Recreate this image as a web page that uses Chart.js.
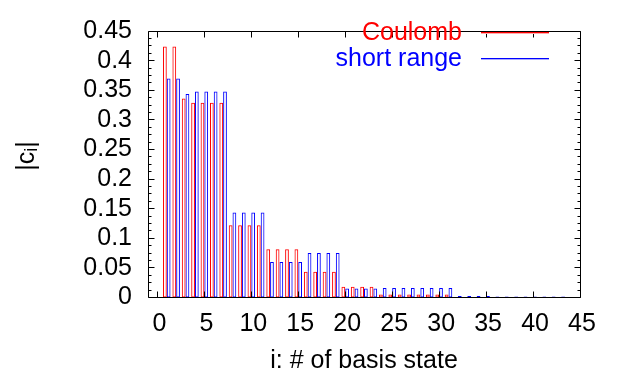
<!DOCTYPE html>
<html><head><meta charset="utf-8">
<script src="https://cdn.jsdelivr.net/npm/chart.js@4"></script>
<style>html,body{margin:0;padding:0;background:#fff;}canvas{display:block;}</style>
</head><body>
<canvas id="c" width="619" height="376"></canvas>
<script>
// ---- data ----
const basisIndex = [1,2,3,4,5,6,7,8,9,10,11,12,13,14,15,16,17,18,19,20,21,22,23,24,25,26,27,28,29,30,31,32,33,34,35,36,37,38,39,40,41,42,43];
const coulomb = [0.424,0.424,0.336,0.329,0.329,0.329,0.329,0.122,0.122,0.122,0.122,0.0815,0.0815,0.0815,0.0815,0.0433,0.0433,0.0433,0.0433,0.0183,0.0183,0.0183,0.0183,0.005,0.005,0.005,0.005,0.005,0.005,0.005,0.005,0.001,0.001,0.001,0.001,0.001,0.001,0.001,0.001,0.001,0.001,0.001,0.001];
const shortRange = [0.370,0.370,0.3435,0.348,0.348,0.348,0.348,0.1436,0.1436,0.1436,0.1436,0.060,0.060,0.060,0.060,0.0751,0.0751,0.0751,0.0751,0.0151,0.0151,0.0151,0.0151,0.0162,0.0162,0.0162,0.0162,0.0162,0.0162,0.0162,0.0162,0.0025,0.0025,0.0025,0.0025,0.0015,0.0015,0.0015,0.0015,0.0015,0.0015,0.0015,0.0015];
const seriesNames = ['Coulomb', 'short range'];
const xTickValues = [0,5,10,15,20,25,30,35,40,45];
const yTickValues = [0,0.05,0.1,0.15,0.2,0.25,0.3,0.35,0.4,0.45];
const yMinorPerMajor = 4;
const xTitle = 'i: # of basis state';

const FONT = '"Liberation Sans", Arial, Helvetica, sans-serif';
const FS = 25;

const framePlugin = {
  id: 'frame',
  afterDraw(chart) {
    const {ctx, chartArea: a, scales: {x, y}} = chart;
    ctx.save();
    ctx.strokeStyle = '#000';
    ctx.lineWidth = 1;
    const L = Math.floor(a.left) + 0.5, R = Math.floor(a.right) + 0.5;
    const T = Math.floor(a.top) + 0.5, B = Math.floor(a.bottom) + 0.5;
    ctx.beginPath();
    ctx.rect(L, T, R - L, B - T);
    const yMin = yTickValues[0], yStep = yTickValues[1] - yTickValues[0];
    const nMinor = (yTickValues.length - 1) * yMinorPerMajor;
    for (let k = 0; k <= nMinor; k++) {
      const v = yMin + k * yStep / yMinorPerMajor;
      const py = Math.floor(y.getPixelForValue(v)) + 0.5;
      const len = (k % yMinorPerMajor === 0) ? 6 : 3;
      ctx.moveTo(L, py); ctx.lineTo(L + len, py);
      ctx.moveTo(R, py); ctx.lineTo(R - len, py);
    }
    for (const v of xTickValues) {
      const px = Math.floor(x.getPixelForValue(v)) + 0.5;
      ctx.moveTo(px, B); ctx.lineTo(px, B - 6);
      ctx.moveTo(px, T); ctx.lineTo(px, T + 6);
    }
    ctx.stroke();

    // legend (text, then line sample)
    ctx.font = FS + 'px ' + FONT;
    ctx.textAlign = 'right';
    ctx.textBaseline = 'middle';
    const legendHalo = ['rgb(255,170,170)', 'rgb(170,170,255)'];
    chart.data.datasets.forEach((ds, i) => {
      const ly = 33 + i * 26;
      ctx.fillStyle = ds.borderColor;
      ctx.fillText(ds.label, 462, ly);
      ctx.fillRect(481, ly - 1, 68, 1);
      ctx.fillStyle = legendHalo[i];
      ctx.fillRect(481, ly, 68, 1);
    });

    // y-axis title |c_i|
    ctx.translate(27, 156);
    ctx.rotate(-Math.PI / 2);
    ctx.fillStyle = '#000';
    ctx.textAlign = 'left';
    ctx.textBaseline = 'middle';
    ctx.font = FS + 'px ' + FONT;
    const w1 = ctx.measureText('|c').width, w3 = ctx.measureText('|').width;
    ctx.font = Math.round(FS * 0.7) + 'px ' + FONT;
    const w2 = ctx.measureText('i').width;
    let sx = -(w1 + w2 + w3) / 2;
    ctx.font = FS + 'px ' + FONT;
    ctx.fillText('|c', sx, 0);
    ctx.font = Math.round(FS * 0.7) + 'px ' + FONT;
    ctx.fillText('i', sx + w1, 5);
    ctx.font = FS + 'px ' + FONT;
    ctx.fillText('|', sx + w1 + w2, 0);
    ctx.restore();
  }
};

new Chart(document.getElementById('c'), {
  type: 'bar',
  data: {
    datasets: [
      { label: seriesNames[0], data: basisIndex.map((i, k) => ({x: i, y: coulomb[k]})),
        borderColor: 'rgb(255,0,0)', backgroundColor: 'rgba(0,0,0,0)', borderWidth: 1, borderSkipped: false,
        categoryPercentage: 0.8, barPercentage: 1.0 },
      { label: seriesNames[1], data: basisIndex.map((i, k) => ({x: i, y: shortRange[k]})),
        borderColor: 'rgb(0,0,255)', backgroundColor: 'rgba(0,0,0,0)', borderWidth: 1, borderSkipped: false,
        categoryPercentage: 0.8, barPercentage: 1.0 }
    ]
  },
  options: {
    responsive: false,
    animation: false,
    devicePixelRatio: 1,
    layout: { padding: { left: 0, right: 39, top: 14.5, bottom: 0 } },
    plugins: { legend: { display: false }, tooltip: { enabled: false } },
    scales: {
      x: {
        type: 'linear', min: -1, max: 45, offset: false,
        grid: { display: false, drawTicks: false }, border: { display: false },
        afterBuildTicks: s => { s.ticks = xTickValues.map(v => ({value: v})); },
        afterFit: s => { s.height = 78.5; },
        ticks: { color: '#000', font: { family: FONT, size: FS }, padding: 12, labelOffset: 2,
                 maxRotation: 0, minRotation: 0, autoSkip: false, callback: v => String(v) },
        title: { display: true, text: xTitle, color: '#000', font: { family: FONT, size: FS }, padding: { top: 0, bottom: 0 } }
      },
      y: {
        min: 0, max: 0.45,
        grid: { display: false, drawTicks: false }, border: { display: false },
        afterBuildTicks: s => { s.ticks = yTickValues.map(v => ({value: v})); },
        afterFit: s => { s.width = 148; },
        ticks: { color: '#000', font: { family: FONT, size: FS }, padding: 16, autoSkip: false,
                 callback: v => String(Math.round(v * 100) / 100) }
      }
    }
  },
  plugins: [framePlugin]
});
</script>
</body></html>
